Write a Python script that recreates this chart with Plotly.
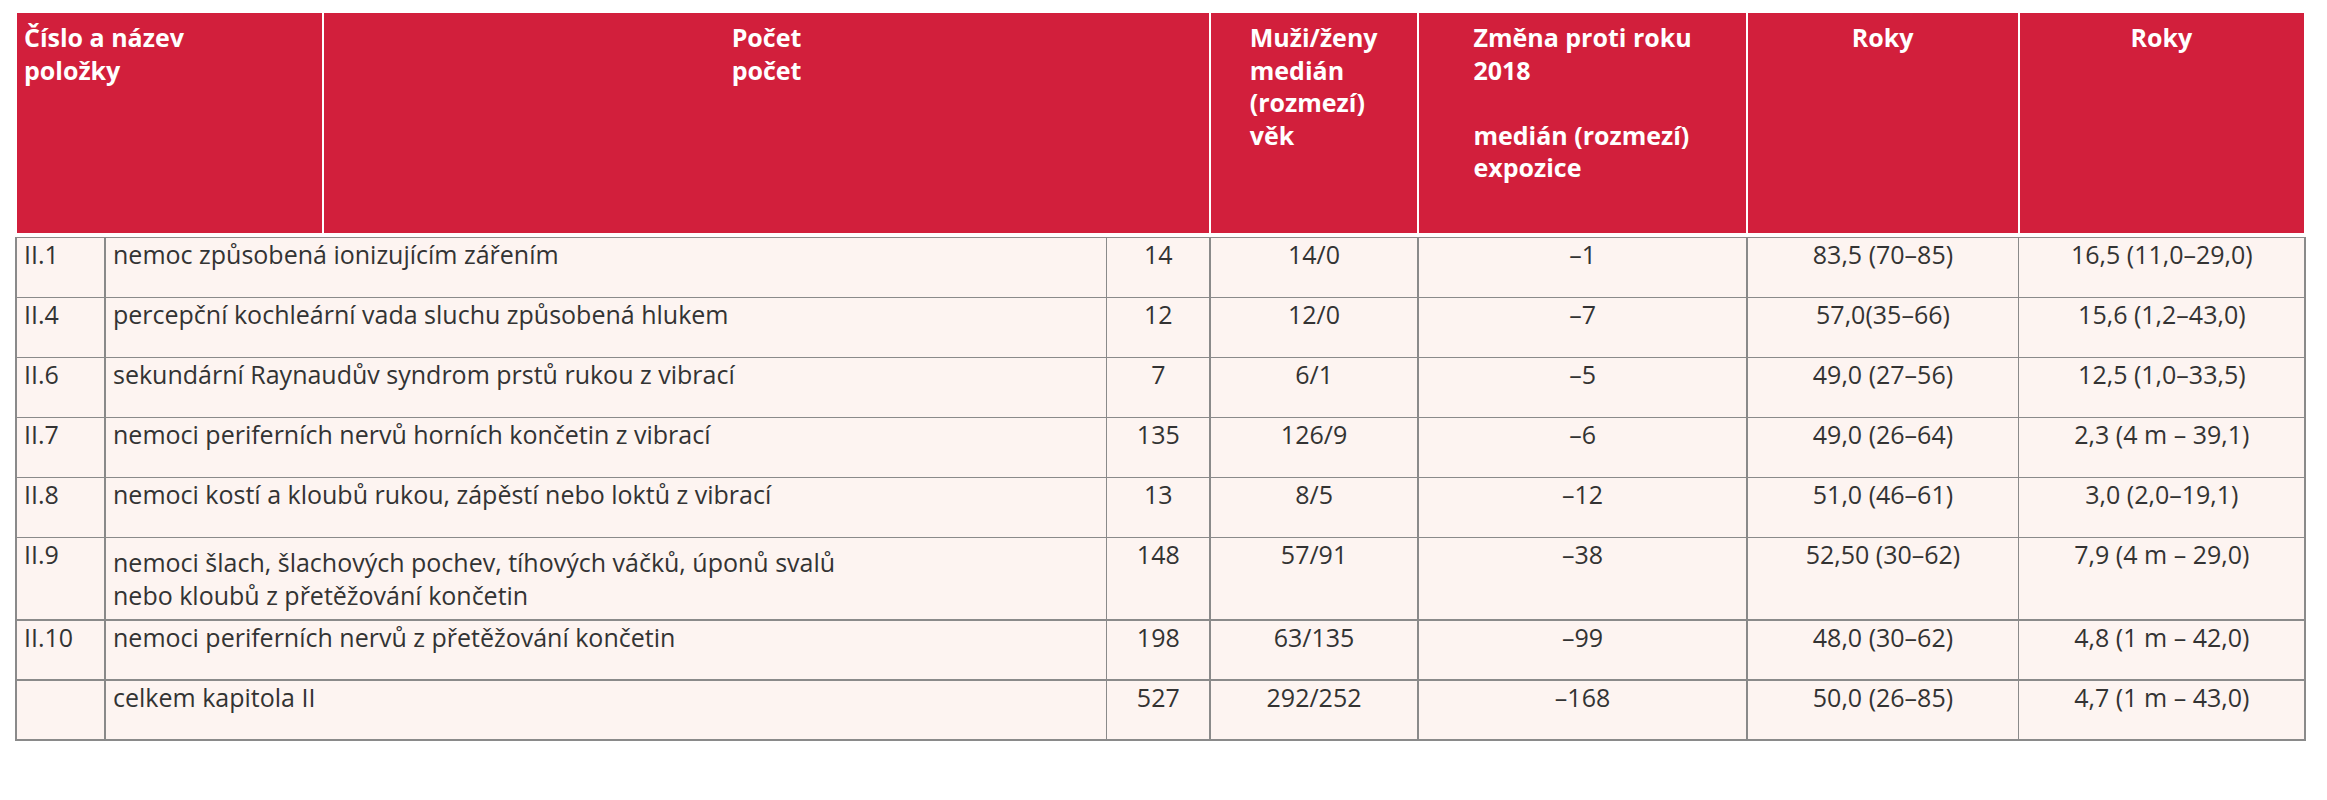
import plotly.graph_objects as go

head_labels = ["<b>Číslo a název<br>položky</b>", "<b>Počet<br>počet</b>",
               "<b>Muži/ženy<br>medián<br>(rozmezí)<br>věk</b>",
               "<b>Změna proti roku<br>2018<br> <br>medián (rozmezí)<br>expozice</b>",
               "<b>Roky</b>", "<b>Roky</b>"]
codes = ["II.1", "II.4", "II.6", "II.7", "II.8", "II.9", "II.10", ""]
names = ["nemoc způsobená ionizujícím zářením",
         "percepční kochleární vada sluchu způsobená hlukem",
         "sekundární Raynaudův syndrom prstů rukou z vibrací",
         "nemoci periferních nervů horních končetin z vibrací",
         "nemoci kostí a kloubů rukou, zápěstí nebo loktů z vibrací",
         "nemoci šlach, šlachových pochev, tíhových váčků, úponů svalů<br>nebo kloubů z přetěžování končetin",
         "nemoci periferních nervů z přetěžování končetin",
         "celkem kapitola II"]
counts = ["14", "12", "7", "135", "13", "148", "198", "527"]
mf = ["14/0", "12/0", "6/1", "126/9", "8/5", "57/91", "63/135", "292/252"]
change = ["–1", "–7", "–5", "–6", "–12", "–38", "–99", "–168"]
age = ["83,5 (70–85)", "57,0(35–66)", "49,0 (27–56)", "49,0 (26–64)",
       "51,0 (46–61)", "52,50 (30–62)", "48,0 (30–62)", "50,0 (26–85)"]
expo = ["16,5 (11,0–29,0)", "15,6 (1,2–43,0)", "12,5 (1,0–33,5)", "2,3 (4 m – 39,1)",
        "3,0 (2,0–19,1)", "7,9 (4 m – 29,0)", "4,8 (1 m – 42,0)", "4,7 (1 m – 43,0)"]

RED = "#D21F3C"
PINK = "#FDF4F1"
GRID = "#8a8a8a"
FONT = "Open Sans"
ALIGN = ["left", "left", "center", "center", "center", "center", "center"]

fig = go.Figure()
fig.add_trace(go.Table(
    domain=dict(x=[0, 1], y=[0.715, 1.0]),
    columnwidth=[207, 598, 140, 222, 183, 193],
    header=dict(values=head_labels, fill_color=RED, height=222,
                line=dict(color="white", width=2),
                align=["left", "center", "center", "center", "center", "center"],
                font=dict(family=FONT, size=25, color="white")),
    cells=dict(values=[[] for _ in head_labels]),
))
fig.add_trace(go.Table(
    domain=dict(x=[0, 1], y=[0.0, 0.716]),
    columnwidth=[60, 675, 70, 140, 222, 183, 193],
    header=dict(values=[codes[0], names[0], counts[0], mf[0], change[0], age[0], expo[0]],
                fill_color=PINK, height=60, line=dict(color=GRID, width=1.5),
                align=ALIGN, font=dict(family=FONT, size=25, color="#333333")),
    cells=dict(values=[codes[1:], names[1:], counts[1:], mf[1:], change[1:], age[1:], expo[1:]],
               fill_color=PINK, height=60, line=dict(color=GRID, width=1.5),
               align=ALIGN, font=dict(family=FONT, size=25, color="#333333")),
))
fig.update_layout(width=2327, height=800, margin=dict(l=8, r=30, t=4, b=2),
                  paper_bgcolor="white")
fig.write_html("out.html")
